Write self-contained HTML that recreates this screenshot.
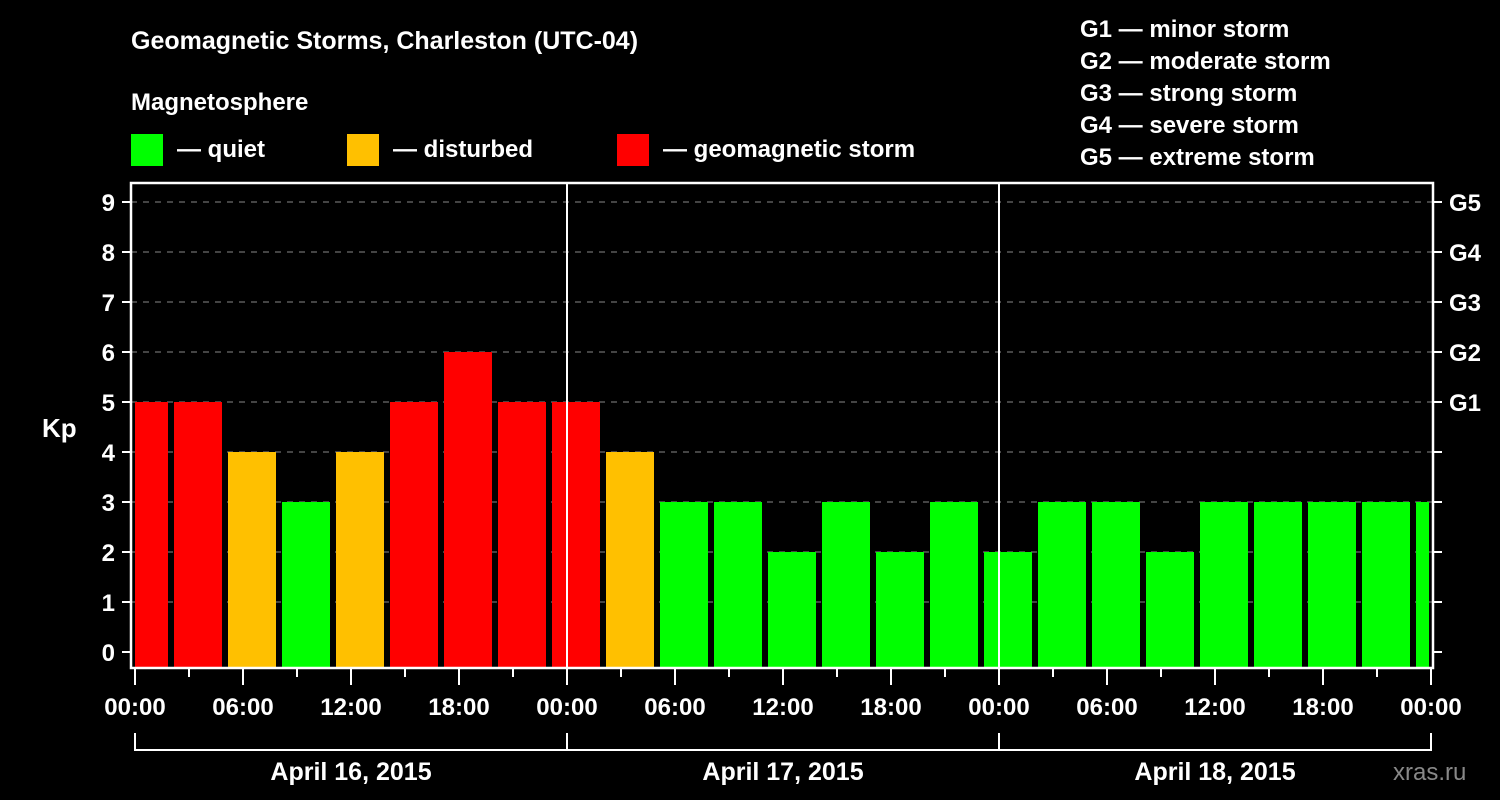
<!DOCTYPE html>
<html><head><meta charset="utf-8"><style>
html,body{margin:0;padding:0;background:#000;}
svg{display:block;font-family:"Liberation Sans",Arial,sans-serif;font-weight:bold;}
</style></head><body>
<svg id="chart" width="1500" height="800" viewBox="0 0 1500 800">
<rect width="1500" height="800" fill="#000"/>
<text x="131" y="49" fill="#fff" font-size="25">Geomagnetic Storms, Charleston (UTC-04)</text>
<text x="131" y="110" fill="#fff" font-size="24">Magnetosphere</text>
<g><rect x="131" y="134" width="32" height="32" fill="#00ff00"/><text x="177" y="157" fill="#fff" font-size="24">— quiet</text></g>
<g><rect x="347" y="134" width="32" height="32" fill="#ffc000"/><text x="393" y="157" fill="#fff" font-size="24">— disturbed</text></g>
<g><rect x="617" y="134" width="32" height="32" fill="#ff0000"/><text x="663" y="157" fill="#fff" font-size="24">— geomagnetic storm</text></g>
<g fill="#fff" font-size="24">
<text x="1080" y="37">G1 — minor storm</text>
<text x="1080" y="69">G2 — moderate storm</text>
<text x="1080" y="101">G3 — strong storm</text>
<text x="1080" y="133">G4 — severe storm</text>
<text x="1080" y="165">G5 — extreme storm</text>
</g>
<text x="42" y="437" fill="#fff" font-size="26">Kp</text>
<text x="1393" y="780" fill="#888" font-size="24" font-weight="normal">xras.ru</text>
<g id="grid"></g><g id="bars"></g><g id="axes"></g>
</svg>
<script>
const kpValues=[5,5,4,3,4,5,6,5,5,4,3,3,2,3,2,3,2,3,3,2,3,3,3,3,3];
const dayLabels=["April 16, 2015","April 17, 2015","April 18, 2015"];
const hourLabels=["00:00","06:00","12:00","18:00"];
const gLabels=["G1","G2","G3","G4","G5"];
const NS="http://www.w3.org/2000/svg";
const L=131,R=1433,T=183,B=668,X0=135,PXH=18;
const x=h=>X0+h*PXH;
const y=v=>652-v*50;
function mk(tag,attrs,parent,text){const e=document.createElementNS(NS,tag);for(const k in attrs)e.setAttribute(k,attrs[k]);if(text!==undefined)e.textContent=text;parent.appendChild(e);return e;}
const grid=document.getElementById('grid'),bars=document.getElementById('bars'),axes=document.getElementById('axes');
for(let v=1;v<=9;v++){const g=mk('line',{x1:L,x2:R,y1:y(v),y2:y(v),stroke:'#888','stroke-dasharray':'6,6','stroke-width':1},grid);

}
kpValues.forEach((v,i)=>{let x1=x(3*i)-15,x2=x1+48;x1=Math.max(x1,L+4);x2=Math.min(x2,R-4);
const c=v>=5?'#ff0000':(v==4?'#ffc000':'#00ff00');
const r=mk('rect',{x:x1,y:y(v),width:x2-x1,height:B-y(v),fill:c},bars);

});
for(let d=1;d<3;d++){const l=mk('line',{x1:x(24*d),x2:x(24*d),y1:T,y2:B,stroke:'#fff','stroke-width':2},axes);

}
const fr=mk('rect',{x:L,y:T,width:R-L,height:B-T,fill:'none',stroke:'#fff','stroke-width':2.5},axes);


for(let v=0;v<=9;v++){mk('line',{x1:L-9,x2:L,y1:y(v),y2:y(v),stroke:'#fff','stroke-width':2},axes);
const t=mk('text',{x:L-16,y:y(v)+9,fill:'#fff','font-size':24,'text-anchor':'end'},axes,String(v));


mk('line',{x1:R,x2:R+9,y1:y(v),y2:y(v),stroke:'#fff','stroke-width':2},axes);
if(v>=5){const g=mk('text',{x:R+16,y:y(v)+9,fill:'#fff','font-size':24},axes,gLabels[v-5]);

}}
for(let h=0;h<=72;h+=3){const major=h%6==0;mk('line',{x1:x(h),x2:x(h),y1:B,y2:B+(major?17:9),stroke:'#fff','stroke-width':2},axes);
if(major){const t=mk('text',{x:x(h),y:715,fill:'#fff','font-size':24,'text-anchor':'middle'},axes,hourLabels[(h/6)%4]);

}}
mk('path',{d:`M${x(0)} 733V750H${x(72)}V733M${x(24)} 733V750M${x(48)} 733V750`,stroke:'#fff','stroke-width':2,fill:'none'},axes);
dayLabels.forEach((d,i)=>{const t=mk('text',{x:x(24*i+12),y:780,fill:'#fff','font-size':25,'text-anchor':'middle'},axes,d);

});
</script>
</body></html>
